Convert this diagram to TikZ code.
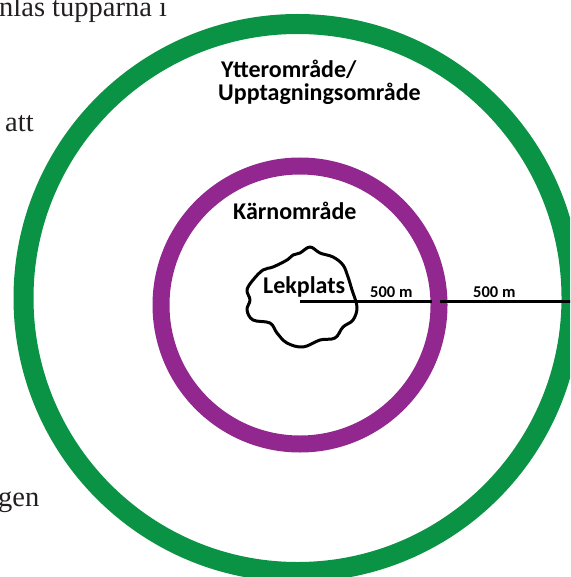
\documentclass[tikz,border=0pt]{standalone}
\usepackage{fontspec}
\setmainfont{Liberation Serif}
\newfontfamily\calibri{Carlito}
\definecolor{ringgreen}{HTML}{0A9245}
\definecolor{ringpurple}{HTML}{92278F}
\definecolor{bgtext}{HTML}{231F20}
\begin{document}
\begin{tikzpicture}[x=1pt,y=-1pt,
  lbl/.style={font=\calibri\bfseries\fontsize{24}{26}\selectfont, inner sep=0pt, anchor=base west},
  dist/.style={font=\calibri\bfseries\fontsize{16.5}{18}\selectfont, inner sep=0pt, anchor=base west},
  bg/.style={font=\fontsize{28.5}{30}\selectfont, inner sep=0pt, anchor=base west, text=bgtext},
  ring/.style={line width=#1}]
\useasboundingbox (0,0) rectangle (570,577);
\clip (0,0) rectangle (570,577);
% background text fragments
\node[bg] (t1) at (-1,17) {nlas tupparna ı};
\node[bg] (t2) at (5,132) {att};
\node[bg] (t3) at (-2,506) {gen};
% rings
\draw[ringgreen, ring=20pt] (297.5,298) circle (274pt);
\draw[ringpurple, ring=17pt] (300,305) circle (139pt);
% play area blob
\draw[line width=3pt, line join=round] plot[smooth cycle, tension=0.6] coordinates {
  (300,253) (310,247) (320,253) (333,257) (343,265) (348,277) (352,290)
  (357,307) (353,320) (343,327) (335,338) (320,340) (303,347) (287,343)
  (277,333) (270,323) (253,320) (247,310) (250,300) (247,290) (253,280)
  (263,270) (273,267) (287,260) (293,255)};
% radius lines
\coordinate (c) at (300,301.5);
\coordinate (m1) at (432,301.5);
\coordinate (m2) at (440,301.5);
\coordinate (e) at (575,301.5);
\draw[line width=3pt] (c) -- (m1);
\draw[line width=3pt] (m2) -- (e);
% labels
\node[lbl] (y1) at (221,78) {Ytterområde/};
\node[lbl] (y2) at (218,101) {Upptagningsområde};
\node[lbl] (k) at (233,219) {Kärnområde};
\node[lbl] (l) at (263,293) {Lekplats};
\node[dist] (d1) at (370,297) {500 m};
\node[dist] (d2) at (473,297) {500 m};
\end{tikzpicture}
\end{document}
